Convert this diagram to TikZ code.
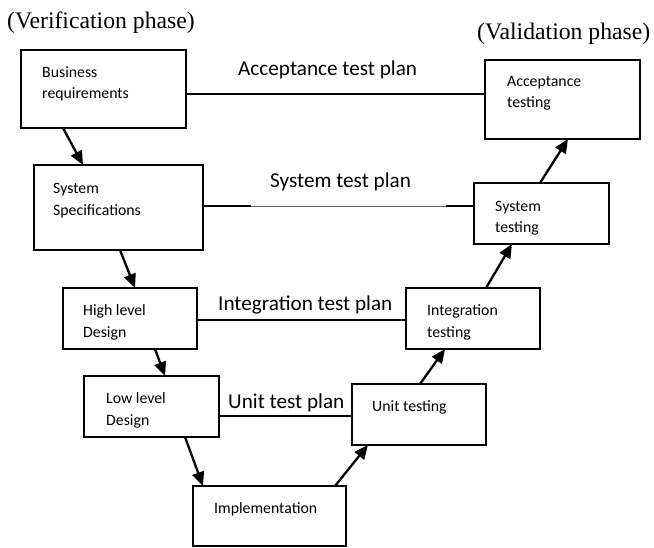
\documentclass[tikz,border=0pt]{standalone}
\usepackage{fontspec}
\setmainfont{Liberation Serif}
\newfontfamily\calib{Carlito}
\usetikzlibrary{arrows.meta,calc}
\begin{document}
\begin{tikzpicture}[x=1pt,y=-1pt,
  box/.style={draw,line width=1.5pt,inner sep=0pt,outer sep=0pt,anchor=north west},
  btext/.style={font=\calib\fontsize{15.8}{22}\selectfont,anchor=base west,inner sep=0pt},
  ptext/.style={font=\calib\fontsize{21.2}{24}\selectfont,anchor=base west,inner sep=0pt},
  phase/.style={font=\fontsize{23.7}{26}\selectfont,anchor=base west,inner sep=0pt},
  planline/.style={line width=1.4pt},
  thinline/.style={line width=0.6pt,black!60},
  flow/.style={line width=2.3pt,-{Triangle[length=14pt,width=12pt]}}]
\useasboundingbox (0,0) rectangle (654,547);

% boxes
\node[box,minimum width=165pt,minimum height=78pt] (br) at (21,50) {};
\node[box,minimum width=155pt,minimum height=79pt] (at) at (485,60) {};
\node[box,minimum width=169pt,minimum height=85pt] (ss) at (34,165) {};
\node[box,minimum width=135pt,minimum height=61pt] (st) at (474,183) {};
\node[box,minimum width=134pt,minimum height=61pt] (hld) at (63,288) {};
\node[box,minimum width=134pt,minimum height=61pt] (it) at (406,288) {};
\node[box,minimum width=135pt,minimum height=61pt] (lld) at (84,376) {};
\node[box,minimum width=134pt,minimum height=61pt] (ut) at (352,384) {};
\node[box,minimum width=153pt,minimum height=60pt] (impl) at (193,486) {};

% box texts
\node[btext] (t1a) at (42,77) {Business};
\node[btext] (t1b) at (42,98) {requirements};
\node[btext] (t2a) at (507,86) {Acceptance};
\node[btext] (t2b) at (507,107.5) {testing};
\node[btext] (t3a) at (53,193) {System};
\node[btext] (t3b) at (53,215) {Specifications};
\node[btext] (t4a) at (495,211) {System};
\node[btext] (t4b) at (495,232) {testing};
\node[btext] (t5a) at (83,315) {High level};
\node[btext] (t5b) at (83,337) {Design};
\node[btext] (t6a) at (427,315) {Integration};
\node[btext] (t6b) at (427,337) {testing};
\node[btext] (t7a) at (106,403) {Low level};
\node[btext] (t7b) at (106,425) {Design};
\node[btext] (t8) at (372,411) {Unit testing};
\node[btext] (t9) at (214,513) {Implementation};

% plan labels
\node[ptext] (pa) at (238,75) {Acceptance test plan};
\node[ptext] (ps) at (270,187) {System test plan};
\node[ptext] (pi) at (218,310) {Integration test plan};
\node[ptext] (pu) at (228,408) {Unit test plan};

% phase labels
\node[phase] (vp) at (7,28) {(Verification phase)};
\node[phase] (vl) at (477,39) {(Validation phase)};

% plan lines
\draw[planline] ($(br.north east)+(0,44)$) -- ($(at.north west)+(0,34)$);
\coordinate (s1) at ($(ss.north east)+(48,41)$);
\coordinate (s2) at ($(st.north west)+(-28,23)$);
\draw[planline] ($(ss.north east)+(0,41)$) -- (s1);
\draw[thinline] (s1) -- (s2);
\draw[planline] (s2) -- ($(st.north west)+(0,23)$);
\draw[planline] ($(hld.north east)+(0,32)$) -- ($(it.north west)+(0,32)$);
\draw[planline] ($(lld.north east)+(0,40)$) -- ($(ut.north west)+(0,32)$);

% flow arrows
\draw[flow] ($(br.south west)+(42,0)$) -- ($(ss.north west)+(49,0)$);
\draw[flow] ($(ss.south west)+(86,0)$) -- ($(hld.north west)+(72,0)$);
\draw[flow] ($(hld.south west)+(92,0)$) -- ($(lld.north west)+(81,0)$);
\draw[flow] ($(lld.south west)+(101,0)$) -- ($(impl.north west)+(10,0)$);
\draw[flow] ($(impl.north west)+(142,0)$) -- ($(ut.south west)+(16,0)$);
\draw[flow] ($(ut.north west)+(68,0)$) -- ($(it.south west)+(39,0)$);
\draw[flow] ($(it.north west)+(80,0)$) -- ($(st.south west)+(38,0)$);
\draw[flow] ($(st.north west)+(66,0)$) -- ($(at.south west)+(83,0)$);
\end{tikzpicture}
\end{document}
